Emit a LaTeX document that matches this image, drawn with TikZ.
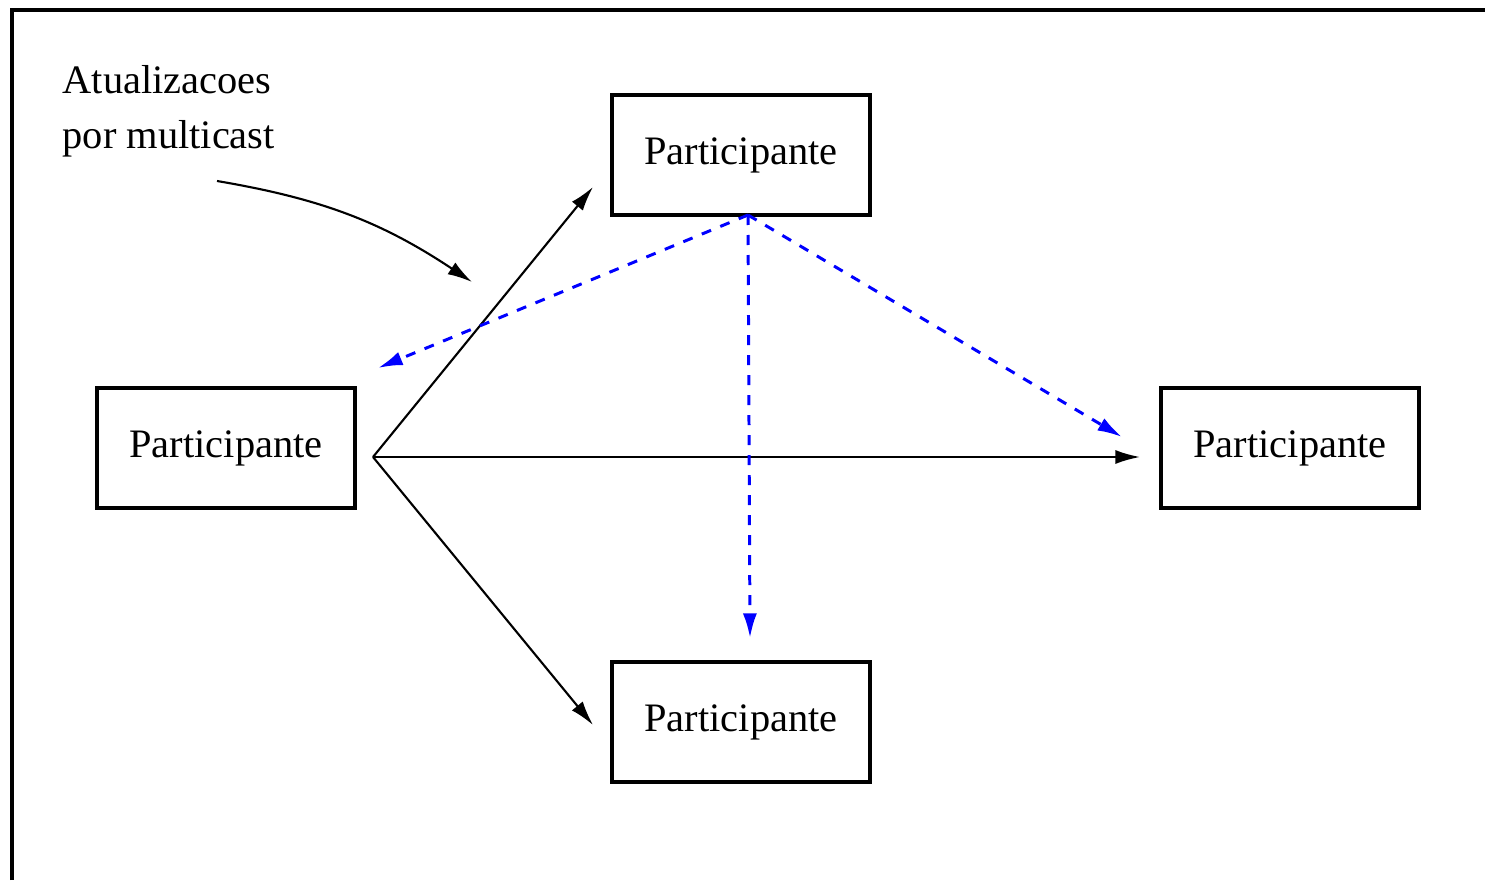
\documentclass[tikz,border=0pt]{standalone}
\usepackage{fontspec}
\setmainfont{Liberation Serif}
\usetikzlibrary{arrows.meta}

\tikzset{
	partbox/.style = {draw, line width = 0.9pt, minimum width = 2.58 cm, minimum height = 1.2 cm, inner sep = 0pt, font = \fontsize{11.5}{14}\selectfont},
	msg/.style = {->, line width = 0.6pt},
	mcast/.style = {->, blue, line width = 0.85pt, dash pattern = on 0.1 cm off 0.1 cm}
}

\begin{document}
\begin{tikzpicture}[> = {Latex[length = 7pt, width = 4pt]}]

	\useasboundingbox (0, 0) rectangle (14.85, 8.8);

	% Frame
	
	\draw [line width = 1.2pt] (0.12, 0) -- (0.12, 8.7) -- (14.85, 8.7);
	
	% Participants
	
	\node [partbox] (ptop) at (7.41, 7.25) {Participante};
	\node [partbox] (pleft) at (2.26, 4.32) {Participante};
	\node [partbox] (pright) at (12.90, 4.32) {Participante};
	\node [partbox] (pbottom) at (7.41, 1.58) {Participante};
	
	% Label
	
	\node [anchor = north west, align = left, inner sep = 0pt, font = \fontsize{11.5}{15.5}\selectfont] (lbl) at (0.62, 8.15) {Atualizacoes\\por multicast};
	
	% Ends
	
	\coordinate (src) at (3.73, 4.23);
	\coordinate (topin) at (5.93, 6.93);
	\coordinate (rightin) at (11.40, 4.23);
	\coordinate (botin) at (5.93, 1.55);
	\coordinate (mcsrc) at (7.48, 6.65);
	\coordinate (leftout) at (3.78, 5.12);
	\coordinate (downout) at (7.50, 2.42);
	\coordinate (rightout) at (11.22, 4.43);
	\coordinate (lblfrom) at (2.17, 6.99);
	\coordinate (lblto) at (4.72, 5.98);
	
	% Unicast
	
	\draw [msg] (src) -- (topin);
	\draw [msg] (src) -- (rightin);
	\draw [msg] (src) -- (botin);
	
	% Multicast
	
	\draw [mcast] (mcsrc) -- (leftout);
	\draw [mcast] (mcsrc) -- (downout);
	\draw [mcast] (mcsrc) -- (rightout);
	
	% Pointer
	
	\draw [msg] (lblfrom) to [bend left = 12] (lblto);

\end{tikzpicture}
\end{document}
